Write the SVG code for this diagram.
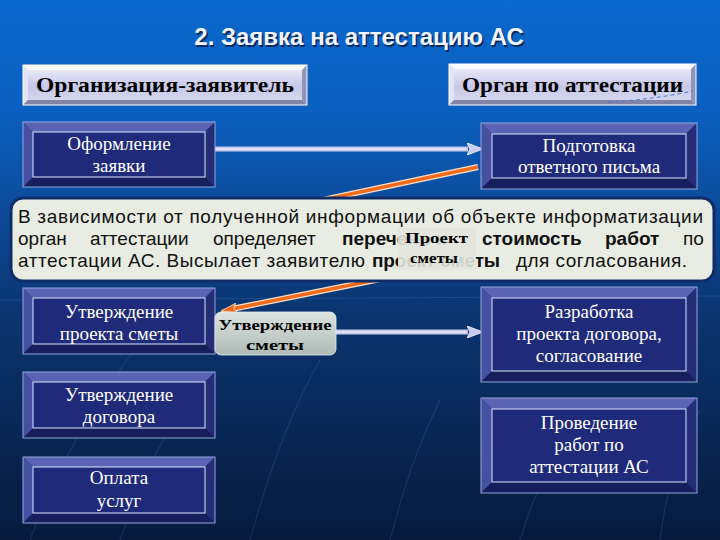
<svg xmlns="http://www.w3.org/2000/svg" width="720" height="540" viewBox="0 0 720 540">
<defs>
<linearGradient id="bg" x1="0" y1="0" x2="0" y2="1">
<stop offset="0" stop-color="#0A67CC"/>
<stop offset="0.2" stop-color="#0A60C0"/>
<stop offset="0.38" stop-color="#0C4C9C"/>
<stop offset="0.58" stop-color="#0B3570"/>
<stop offset="1" stop-color="#071A3C"/>
</linearGradient>
<linearGradient id="hdr" x1="0" y1="0" x2="0" y2="1">
<stop offset="0" stop-color="#F0F0FB"/>
<stop offset="0.55" stop-color="#C6C8E8"/>
<stop offset="1" stop-color="#DADCF2"/>
</linearGradient>
<linearGradient id="lbl" x1="0" y1="0" x2="0" y2="1">
<stop offset="0" stop-color="#DCE3E0"/>
<stop offset="1" stop-color="#AEBAB6"/>
</linearGradient>
<marker id="ga" viewBox="0 0 16 12" refX="15" refY="6" markerWidth="16" markerHeight="12" markerUnits="userSpaceOnUse" orient="auto">
<path d="M0,0 L16,6 L0,12 L3,6 Z" fill="#C8CAEE" stroke="#FFFFFF" stroke-width="0.8"/>
</marker>
<marker id="oa" viewBox="0 0 16 10" refX="15" refY="5" markerWidth="16" markerHeight="10" markerUnits="userSpaceOnUse" orient="auto">
<path d="M0,0 L16,5 L0,10 L3,5 Z" fill="#F26A1B" stroke="#FBE3CF" stroke-width="0.8"/>
</marker>
<style>
.face{fill:#1F2A7A}
.bt{fill:#5A64B2}
.bl{fill:#4650A0}
.br{fill:#242D76}
.bb{fill:#161E5C}
.inn{fill:none;stroke:#DCE4FF;stroke-width:1}
.out{fill:none;stroke:#93A6DE;stroke-width:1}
.hbt{fill:#FAFAFF}
.hbl{fill:#E2E3F4}
.hbr{fill:#9395B6}
.hbb{fill:#8284A6}
.hface{fill:url(#hdr)}
.bx{font-family:"Liberation Serif","DejaVu Serif",serif;font-size:19px;fill:#FFFFFF;text-anchor:middle}
.hd{font-family:"Liberation Serif","DejaVu Serif",serif;font-weight:bold;font-size:20px;fill:#000000;text-anchor:middle}
.co{font-family:"Liberation Sans",Arial,sans-serif;font-size:19px;fill:#111111}
.b{font-weight:bold}
.lb{font-family:"Liberation Serif","DejaVu Serif",serif;font-weight:bold;font-size:15px;fill:#000000;text-anchor:middle}
.gl{fill:none;stroke:#C6C8EE;stroke-width:5}
.gc{fill:none;stroke:#F6F6FF;stroke-width:1.2}
.ol{fill:none;stroke:#FBE0C8;stroke-width:6}
.oc{fill:none;stroke:#F26A1B;stroke-width:3.5}
.deco{fill:none;stroke:#5C8FDA;stroke-width:1;opacity:0.22}
</style>
</defs>

<rect x="0" y="0" width="720" height="540" fill="url(#bg)"/>
<g id="background-lines">
<path class="deco" d="M30 540 Q70 430 150 330"/>
<path class="deco" d="M120 540 Q150 450 200 380"/>
<path class="deco" d="M250 540 Q280 430 320 360"/>
<path class="deco" d="M390 540 Q410 460 440 400"/>
<path class="deco" d="M520 540 Q540 470 580 420"/>
<path class="deco" d="M660 540 Q670 460 700 410"/>
<path class="deco" d="M0 300 L720 296"/>
</g>

<g id="title">
<text x="360.5" y="46.5" font-family="Liberation Sans, Arial, sans-serif" font-weight="bold" font-size="24" fill="#0A2A5A" text-anchor="middle">2. Заявка на аттестацию АС</text>
<text x="359" y="45" font-family="Liberation Sans, Arial, sans-serif" font-weight="bold" font-size="24" fill="#F2F5FF" text-anchor="middle">2. Заявка на аттестацию АС</text>
</g>

<g id="hdr-left">
<rect class="hface" x="23" y="65" width="284" height="40"/>
<polygon class="hbt" points="23,65 307,65 302,70 28,70"/>
<polygon class="hbl" points="23,65 28,70 28,100 23,105"/>
<polygon class="hbr" points="307,65 307,105 302,100 302,70"/>
<polygon class="hbb" points="23,105 307,105 302,100 28,100"/>
<rect x="23" y="65" width="284" height="40" fill="none" stroke="#FFFFFF" stroke-width="1"/>
<text class="hd" x="165" y="92" textLength="258" lengthAdjust="spacingAndGlyphs">Организация-заявитель</text>
</g>

<g id="hdr-right">
<rect class="hface" x="449" y="64" width="247" height="41"/>
<polygon class="hbt" points="449,64 696,64 691,69 454,69"/>
<polygon class="hbl" points="449,64 454,69 454,100 449,105"/>
<polygon class="hbr" points="696,64 696,105 691,100 691,69"/>
<polygon class="hbb" points="449,105 696,105 691,100 454,100"/>
<rect x="449" y="64" width="247" height="41" fill="none" stroke="#FFFFFF" stroke-width="1"/>
<text class="hd" x="572.5" y="92" textLength="221" lengthAdjust="spacingAndGlyphs">Орган по аттестации</text>
<path d="M608 102 Q650 100 693 91" fill="none" stroke="#4A78C8" stroke-width="1" stroke-dasharray="4 3"/>
</g>

<g id="connectors">
<path class="ol" d="M478 167 L200 226"/>
<path class="oc" d="M478 167 L200 226"/>
<path class="ol" d="M490 257 L234 308.5"/>
<path class="oc" d="M490 257 L222 311" marker-end="url(#oa)"/>
<path class="gl" d="M215 149 L468 149"/>
<path class="gc" d="M215 149 L466 149"/>
<path d="M468 149 L482 149" fill="none" stroke="none" marker-end="url(#ga)"/>
<path class="gl" d="M215 332 L468 332"/>
<path class="gc" d="M215 332 L466 332"/>
<path d="M468 332 L482 332" fill="none" stroke="none" marker-end="url(#ga)"/>
</g>

<g id="node-oformlenie">
<rect class="face" x="23" y="122" width="192" height="65"/>
<polygon class="bt" points="23,122 215,122 205,132 33,132"/>
<polygon class="bl" points="23,122 33,132 33,177 23,187"/>
<polygon class="br" points="215,122 215,187 205,177 205,132"/>
<polygon class="bb" points="23,187 215,187 205,177 33,177"/>
<rect class="inn" x="33" y="132" width="172" height="45"/>
<rect class="out" x="23" y="122" width="192" height="65"/>
<text class="bx" x="119" y="150">Оформление</text>
<text class="bx" x="119" y="172">заявки</text>
</g>

<g id="node-podgotovka">
<rect class="face" x="481" y="123" width="216" height="66"/>
<polygon class="bt" points="481,123 697,123 686,134 492,134"/>
<polygon class="bl" points="481,123 492,134 492,178 481,189"/>
<polygon class="br" points="697,123 697,189 686,178 686,134"/>
<polygon class="bb" points="481,189 697,189 686,178 492,178"/>
<rect class="inn" x="492" y="134" width="194" height="44"/>
<rect class="out" x="481" y="123" width="216" height="66"/>
<text class="bx" x="589" y="152">Подготовка</text>
<text class="bx" x="589" y="173">ответного письма</text>
</g>

<g id="node-utv-proekta">
<rect class="face" x="23" y="288" width="192" height="66"/>
<polygon class="bt" points="23,288 215,288 205,298 33,298"/>
<polygon class="bl" points="23,288 33,298 33,344 23,354"/>
<polygon class="br" points="215,288 215,354 205,344 205,298"/>
<polygon class="bb" points="23,354 215,354 205,344 33,344"/>
<rect class="inn" x="33" y="298" width="172" height="46"/>
<rect class="out" x="23" y="288" width="192" height="66"/>
<text class="bx" x="119" y="318">Утверждение</text>
<text class="bx" x="119" y="340">проекта сметы</text>
</g>

<g id="node-utv-dogovora">
<rect class="face" x="23" y="372" width="192" height="66"/>
<polygon class="bt" points="23,372 215,372 205,382 33,382"/>
<polygon class="bl" points="23,372 33,382 33,428 23,438"/>
<polygon class="br" points="215,372 215,438 205,428 205,382"/>
<polygon class="bb" points="23,438 215,438 205,428 33,428"/>
<rect class="inn" x="33" y="382" width="172" height="46"/>
<rect class="out" x="23" y="372" width="192" height="66"/>
<text class="bx" x="119" y="401">Утверждение</text>
<text class="bx" x="119" y="423">договора</text>
</g>

<g id="node-oplata">
<rect class="face" x="23" y="457" width="192" height="66"/>
<polygon class="bt" points="23,457 215,457 205,467 33,467"/>
<polygon class="bl" points="23,457 33,467 33,513 23,523"/>
<polygon class="br" points="215,457 215,523 205,513 205,467"/>
<polygon class="bb" points="23,523 215,523 205,513 33,513"/>
<rect class="inn" x="33" y="467" width="172" height="46"/>
<rect class="out" x="23" y="457" width="192" height="66"/>
<text class="bx" x="119" y="484">Оплата</text>
<text class="bx" x="119" y="507">услуг</text>
</g>

<g id="node-razrabotka">
<rect class="face" x="481" y="287" width="216" height="95"/>
<polygon class="bt" points="481,287 697,287 686,298 492,298"/>
<polygon class="bl" points="481,287 492,298 492,371 481,382"/>
<polygon class="br" points="697,287 697,382 686,371 686,298"/>
<polygon class="bb" points="481,382 697,382 686,371 492,371"/>
<rect class="inn" x="492" y="298" width="194" height="73"/>
<rect class="out" x="481" y="287" width="216" height="95"/>
<text class="bx" x="589" y="318">Разработка</text>
<text class="bx" x="589" y="340">проекта договора,</text>
<text class="bx" x="589" y="362">согласование</text>
</g>

<g id="node-provedenie">
<rect class="face" x="481" y="398" width="216" height="95"/>
<polygon class="bt" points="481,398 697,398 686,409 492,409"/>
<polygon class="bl" points="481,398 492,409 492,482 481,493"/>
<polygon class="br" points="697,398 697,493 686,482 686,409"/>
<polygon class="bb" points="481,493 697,493 686,482 492,482"/>
<rect class="inn" x="492" y="409" width="194" height="73"/>
<rect class="out" x="481" y="398" width="216" height="95"/>
<text class="bx" x="589" y="429">Проведение</text>
<text class="bx" x="589" y="451">работ по</text>
<text class="bx" x="589" y="473">аттестации АС</text>
</g>

<g id="label-utv-smety">
<rect x="215" y="312" width="121" height="43" rx="6" fill="url(#lbl)" stroke="#E8EEEC" stroke-width="0.8"/>
<text class="lb" x="275" y="330" textLength="113" lengthAdjust="spacingAndGlyphs">Утверждение</text>
<text class="lb" x="275" y="350" textLength="58" lengthAdjust="spacingAndGlyphs">сметы</text>
</g>

<g id="callout">
<rect x="11" y="198" width="703" height="83" rx="12" fill="#E8ECE2" stroke="#0E2C66" stroke-width="3"/>
<text class="co" x="18" y="223" textLength="685">В зависимости от полученной информации об объекте информатизации</text>
<text class="co" y="245"><tspan x="18">орган</tspan><tspan x="90">аттестации</tspan><tspan x="213">определяет</tspan><tspan class="b" x="342">перечень и</tspan><tspan class="b" x="482">стоимость</tspan><tspan class="b" x="605">работ</tspan><tspan x="683">по</tspan></text>
<text class="co" x="18" y="267" textLength="347">аттестации АС. Высылает заявителю</text>
<text class="co b" x="372" y="267" textLength="128">проект сметы</text>
<text class="co" x="516" y="267" textLength="171">для согласования.</text>
</g>

<g id="label-proekt-smety">
<rect x="398" y="228" width="78" height="42" fill="#E4E7DE" opacity="0.9"/>
<text class="lb" x="436.5" y="243" font-size="14" textLength="63" lengthAdjust="spacingAndGlyphs">Проект</text>
<text class="lb" x="434" y="263" font-size="14" textLength="48" lengthAdjust="spacingAndGlyphs">сметы</text>
</g>
</svg>
